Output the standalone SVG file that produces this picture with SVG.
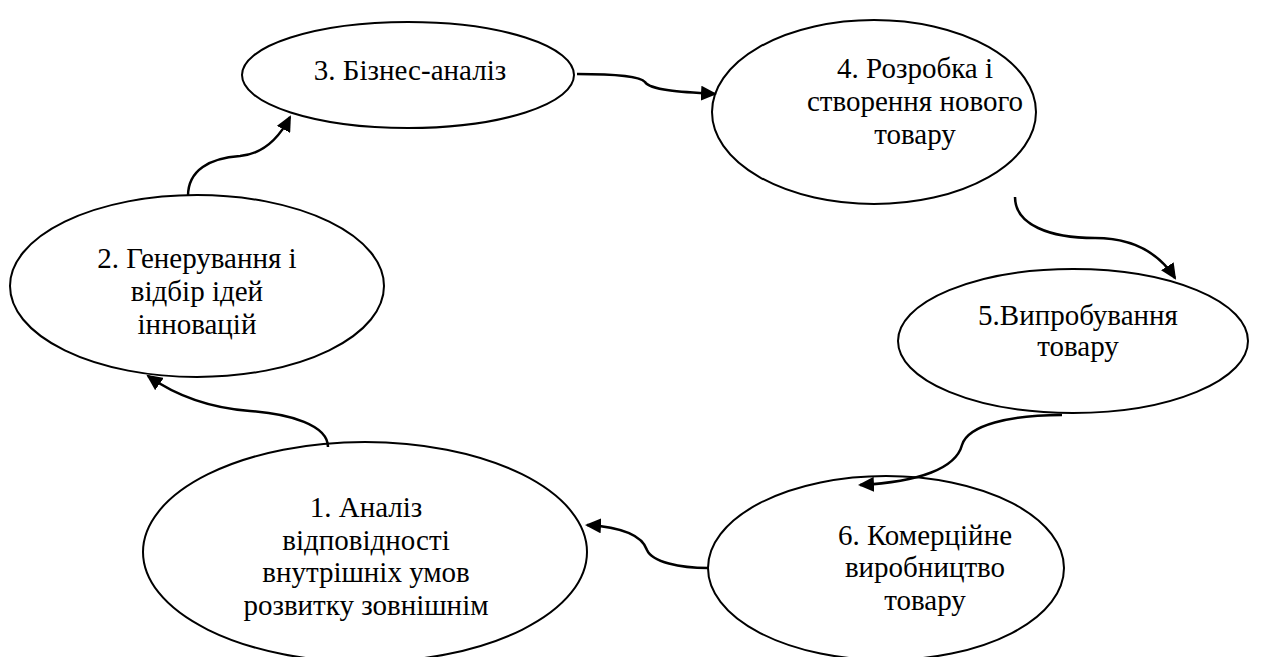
<svg xmlns="http://www.w3.org/2000/svg" width="1263" height="657" viewBox="0 0 1263 657">
<style>
.n ellipse{fill:#fff;stroke:#000;stroke-width:2}
.n text{font-family:'Liberation Serif',serif;font-size:29px;fill:#000;text-anchor:middle}
.c path{fill:none;stroke:#000;stroke-width:2.5;marker-end:url(#ah)}
</style>
<defs>
<marker id="ah" markerWidth="17" markerHeight="15" refX="14" refY="7.5" orient="auto" markerUnits="userSpaceOnUse">
<path d="M0,0 L16,7.5 L0,15 z" fill="#000"/>
</marker>
</defs>
<rect width="1263" height="657" fill="#fff"/>
<g id="n3" class="n"><ellipse cx="408" cy="75" rx="166" ry="53"/><text x="410" y="80">3. Бізнес-аналіз</text></g>
<g id="n4" class="n"><ellipse cx="874" cy="112" rx="162" ry="92"/><text x="915" y="78">4. Розробка і</text><text x="915" y="111">створення нового</text><text x="915" y="144">товару</text></g>
<g id="n2" class="n"><ellipse cx="197" cy="286" rx="187" ry="91"/><text x="197" y="268">2. Генерування і</text><text x="197" y="301">відбір ідей</text><text x="197" y="334">інновацій</text></g>
<g id="n5" class="n"><ellipse cx="1073" cy="341" rx="175" ry="72"/><text x="1078" y="325">5.Випробування</text><text x="1078" y="356">товару</text></g>
<g id="n1" class="n"><ellipse cx="365" cy="552" rx="222" ry="110"/><text x="366" y="517">1. Аналіз</text><text x="366" y="550">відповідності</text><text x="366" y="582">внутрішніх умов</text><text x="366" y="615">розвитку зовнішнім</text></g>
<g id="n6" class="n"><ellipse cx="886" cy="568" rx="178" ry="92"/><text x="925" y="545">6. Комерційне</text><text x="925" y="577">виробництво</text><text x="925" y="610">товару</text></g>
<g id="connectors" class="c">
<path d="M328,447 C328,425 290,414 250,411 C210,408 175,395 148,376"/>
<path d="M188,196 C188,170 210,158 240,156 C262,154 278,140 290,117"/>
<path d="M577,74 C610,74 640,76 645,82 C650,90 680,92 715,94"/>
<path d="M1015,197 C1015,225 1050,238 1095,238 C1135,238 1160,255 1175,278"/>
<path d="M1062,415 C1010,415 968,425 962,445 C956,468 920,482 860,485"/>
<path d="M708,568 C680,568 652,562 647,550 C642,535 620,527 587,525"/>
</g>
</svg>
